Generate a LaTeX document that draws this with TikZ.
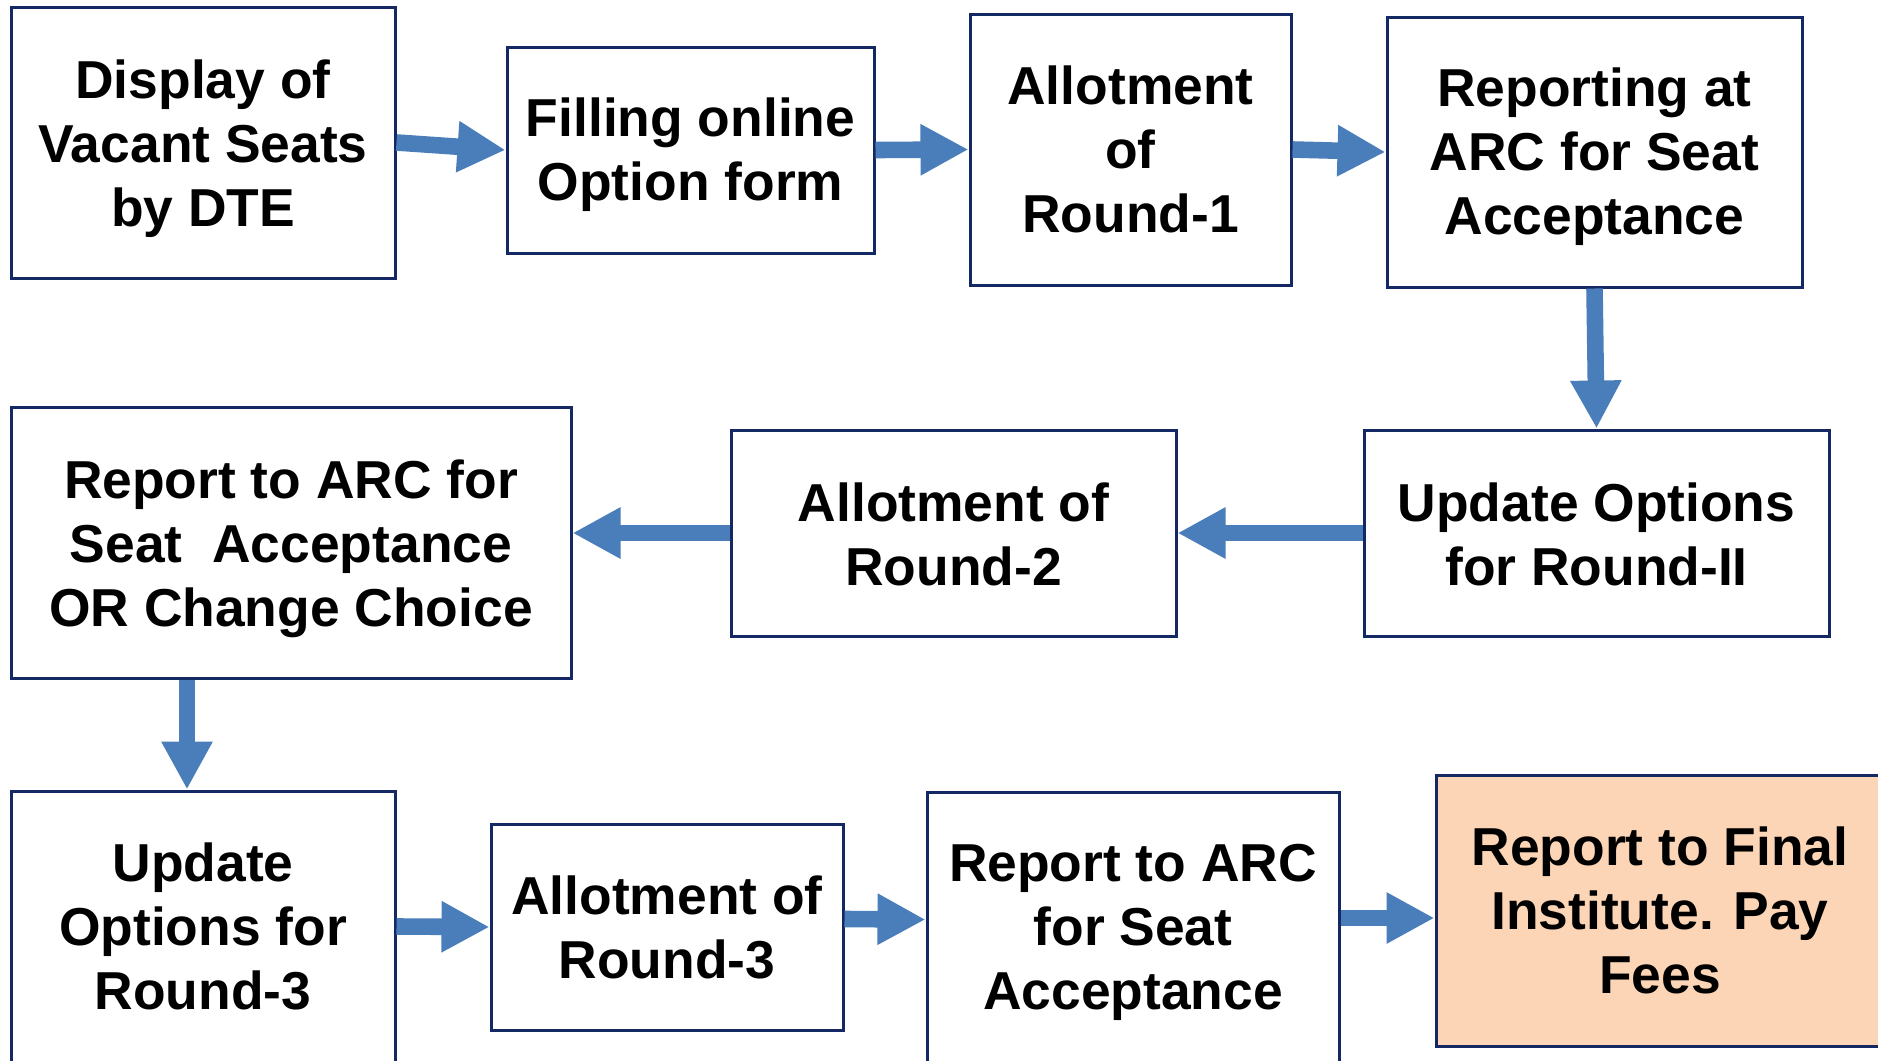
\documentclass[tikz,border=0pt]{standalone}
\usepackage{fontspec}
\setmainfont{Liberation Sans}
\usetikzlibrary{arrows.meta,calc}
\definecolor{boxline}{RGB}{20,40,100}
\definecolor{arrblue}{RGB}{74,126,187}
\definecolor{peach}{RGB}{251,213,181}
\tikzset{
  box/.style={draw=boxline, line width=1.5pt, rectangle, inner sep=0pt},
  txt/.style={align=center, inner sep=0pt,
    font=\fontsize{26.7}{32}\selectfont\bfseries, text=black},
  arr/.style={draw=arrblue, line width=8.3pt,
    -{Triangle[length=24pt,width=24pt]}},
}
\begin{document}
\begin{tikzpicture}[x=0.5pt,y=-0.5pt]
\useasboundingbox (0,0) rectangle (1878,1060);
\clip (0,0) rectangle (1878,1060);
\fill[white] (0,0) rectangle (1878,1060);
% boxes
\node[box, minimum width=192pt, minimum height=135.5pt] (b1) at (203,142.5) {};
\node[box, minimum width=183.5pt, minimum height=103pt] (b2) at (690.5,150) {};
\node[box, minimum width=160.5pt, minimum height=135.5pt] (b3) at (1130.5,149.5) {};
\node[box, minimum width=207.5pt, minimum height=135pt] (b4) at (1594.5,152) {};
\node[box, minimum width=232.5pt, minimum height=103pt] (b5) at (1596.5,533) {};
\node[box, minimum width=222.5pt, minimum height=103pt] (b6) at (953.5,533) {};
\node[box, minimum width=280pt, minimum height=135.5pt] (b7) at (291,542.5) {};
\node[box, minimum width=192pt, minimum height=135.5pt] (b8) at (203,926.5) {};
\node[box, minimum width=176pt, minimum height=103pt] (b9) at (667,927) {};
\node[box, minimum width=206pt, minimum height=135.5pt] (b10) at (1133,927.5) {};
\node[box, fill=peach, minimum width=224pt, minimum height=135.5pt] (b11) at (1660,910.5) {};
% texts
\node[txt] (t1) at ($(b1.center)+(0,6)$) {Display of\\Vacant Seats\\by DTE};
\node[txt] (t2) at ($(b2.center)+(0,5)$) {Filling online\\Option form};
\node[txt] (t3) at (b3.center) {Allotment\\of\\Round-1};
\node[txt] (t4) at ($(b4.center)+(0,5)$) {Reporting at\\ARC for Seat\\Acceptance};
\node[txt] (t5) at ($(b5.center)+(0,1)$) {Update Options\\for Round-II};
\node[txt] (t6) at ($(b6.center)+(0,1)$) {Allotment of\\Round-2};
\node[txt] (t7) at ($(b7.center)+(0,6)$) {Report to ARC for\\Seat\ \ Acceptance\\OR Change Choice};
\node[txt] (t8) at (b8.center) {Update\\Options for\\Round-3};
\node[txt] (t9) at (b9.center) {Allotment of\\Round-3};
\node[txt] (t10) at ($(b10.center)+(0,5)$) {Report to ARC\\for Seat\\Acceptance};
\node[txt] (t11) at (b11.center) {Report to Final\\Institute. Pay\\Fees};
% arrows
\draw[arr] (b1.east) -- (b2.west);
\draw[arr] (b2.east) -- (b3.west);
\draw[arr] (b3.east) -- (b4.west);
\draw[arr] (b4.south) -- (b5.north);
\draw[arr] (b5.west) -- (b6.east);
\draw[arr] (b6.west) -- (b6.west -| b7.east);
\draw[arr] (b7.south -| 187,0) -- (b8.north -| 187,0);
\draw[arr] (b8.east) -- (b9.west);
\draw[arr] ($(b9.east)+(0,-8)$) -- ($(b10.west)+(0,-8)$);
\draw[arr] (b10.east |- 0,918) -- (b11.west |- 0,918);
\end{tikzpicture}
\end{document}
